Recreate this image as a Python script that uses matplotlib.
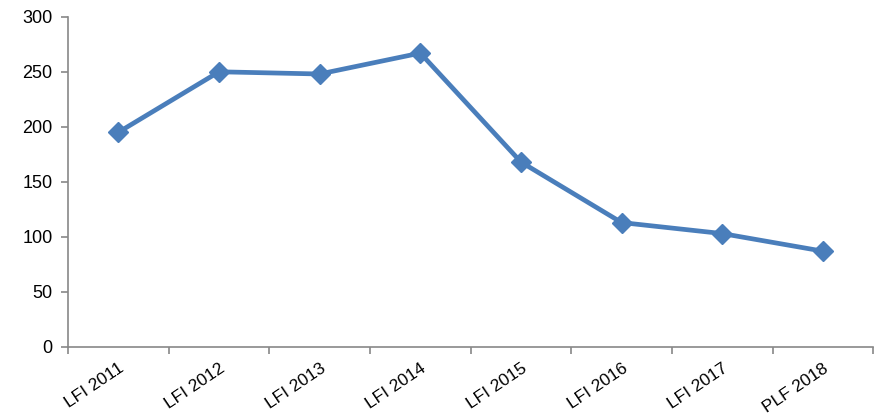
import matplotlib.pyplot as plt
import numpy as np

plt.rcParams['font.family'] = ['Liberation Sans', 'DejaVu Sans']

categorias = ['LFI 2011', 'LFI 2012', 'LFI 2013', 'LFI 2014', 'LFI 2015', 'LFI 2016', 'LFI 2017', 'PLF 2018']
valores = [195, 250, 248, 267, 168, 113, 103, 87]
y_ticks = [0, 50, 100, 150, 200, 250, 300]

fig = plt.figure(figsize=(8.83, 4.19), dpi=100)
ax = fig.add_axes([0.077, 0.172, 0.912, 0.788])

x = np.arange(len(categorias))
ax.plot(x, valores, color='#4A7EBB', linewidth=3.4, marker='D', markersize=10.5)

ax.set_xlim(-0.5, len(categorias) - 0.5)
ax.set_ylim(0, 300)
ax.set_yticks(y_ticks)
ax.set_xticks(x)
ax.set_xticklabels(categorias, rotation=34, ha='right', rotation_mode='anchor')
ax.set_xticks(np.arange(len(categorias) + 1) - 0.5, minor=True)
ax.tick_params(axis='x', which='major', length=0, pad=10, labelsize=12.5)
ax.tick_params(axis='x', which='minor', length=5, color='#888888', width=1.2)
ax.tick_params(axis='y', length=5, color='#888888', width=1.2, labelsize=13, pad=6)

for s in ['top', 'right']:
    ax.spines[s].set_visible(False)
for s in ['left', 'bottom']:
    ax.spines[s].set_color('#888888')
    ax.spines[s].set_linewidth(1.2)

fig.savefig('out.png', dpi=100)
